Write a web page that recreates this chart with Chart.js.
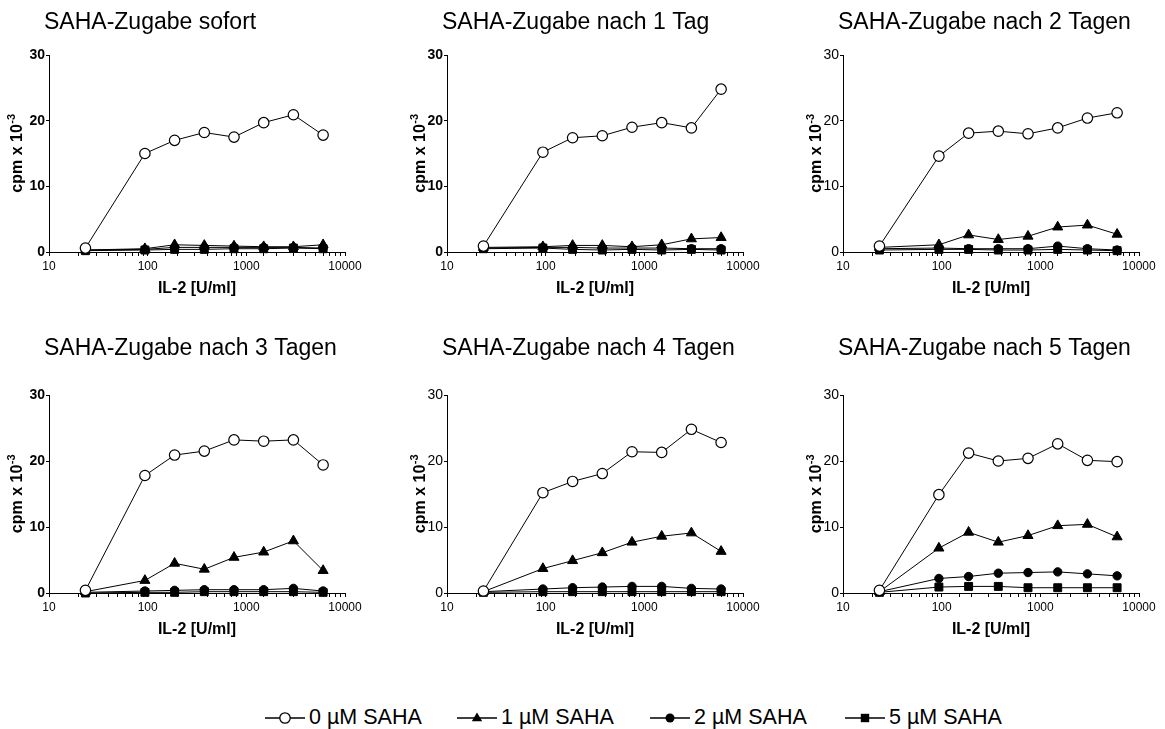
<!DOCTYPE html>
<html lang="de">
<head>
    <meta charset="UTF-8">
    <title>SAHA-Zugabe</title>
    <style>
        html, body {
            margin: 0;
            padding: 0;
            background: #fff;
            overflow: hidden;
            width: 1165px;
            height: 729px;
            font-family: "Liberation Sans", Arial, sans-serif;
        }
        canvas {
            position: absolute;
        }
        .leg {
            position: absolute;
            top: 705px;
            display: flex;
            align-items: center;
            font-size: 21.5px;
            color: #000;
            white-space: nowrap;
        }
        .leg svg {
            margin-right: 4px;
        }
    </style>
</head>
<body>
    <div id="wrap"></div>

    <script src="https://cdn.jsdelivr.net/npm/chart.js"></script>
    <script>
        // IL-2 Konzentrationen [U/ml]
        const il2 = [23.4, 93.75, 187.5, 375, 750, 1500, 3000, 6000];

        const titles = [
            'SAHA-Zugabe sofort',
            'SAHA-Zugabe nach 1 Tag',
            'SAHA-Zugabe nach 2 Tagen',
            'SAHA-Zugabe nach 3 Tagen',
            'SAHA-Zugabe nach 4 Tagen',
            'SAHA-Zugabe nach 5 Tagen'
        ];
        const legendLabels = ['0 µM SAHA', '1 µM SAHA', '2 µM SAHA', '5 µM SAHA'];
        const yTicks = [0, 10, 20, 30];

        // cpm x 10^-3, Reihen: 0, 1, 2, 5 µM SAHA
        const sofort = [
            [0.6, 15.0, 17.0, 18.2, 17.5, 19.7, 20.9, 17.8],
            [0.3, 0.5, 1.1, 1.0, 0.9, 0.8, 0.8, 1.1],
            [0.3, 0.4, 0.7, 0.7, 0.7, 0.7, 0.7, 0.6],
            [0.2, 0.3, 0.4, 0.4, 0.5, 0.5, 0.6, 0.5]
        ];
        const tag1 = [
            [0.9, 15.2, 17.4, 17.7, 19.0, 19.7, 18.9, 24.8],
            [0.7, 0.8, 1.0, 1.0, 0.8, 1.1, 2.0, 2.2],
            [0.6, 0.7, 0.7, 0.6, 0.6, 0.6, 0.5, 0.5],
            [0.5, 0.6, 0.4, 0.3, 0.4, 0.3, 0.4, 0.3]
        ];
        const tage2 = [
            [0.9, 14.6, 18.1, 18.4, 18.0, 18.9, 20.4, 21.2],
            [0.7, 1.1, 2.6, 1.9, 2.4, 3.8, 4.1, 2.7],
            [0.5, 0.6, 0.5, 0.5, 0.5, 0.9, 0.5, 0.3],
            [0.3, 0.4, 0.4, 0.3, 0.3, 0.4, 0.3, 0.2]
        ];
        const tage3 = [
            [0.4, 17.8, 20.9, 21.5, 23.2, 23.0, 23.2, 19.4],
            [0.2, 1.9, 4.5, 3.6, 5.4, 6.2, 7.9, 3.4],
            [0.1, 0.3, 0.4, 0.5, 0.5, 0.5, 0.7, 0.3],
            [0.0, 0.1, 0.1, 0.2, 0.2, 0.2, 0.2, 0.1]
        ];
        const tage4 = [
            [0.3, 15.2, 16.9, 18.1, 21.4, 21.3, 24.8, 22.8],
            [0.2, 3.7, 4.9, 6.1, 7.7, 8.6, 9.1, 6.3],
            [0.2, 0.6, 0.8, 0.9, 1.0, 1.0, 0.7, 0.6],
            [0.1, 0.2, 0.2, 0.2, 0.2, 0.2, 0.2, 0.2]
        ];
        const tage5 = [
            [0.4, 14.9, 21.2, 20.0, 20.4, 22.6, 20.1, 19.9],
            [0.2, 6.8, 9.2, 7.7, 8.7, 10.2, 10.4, 8.5],
            [0.2, 2.2, 2.5, 3.0, 3.1, 3.2, 2.9, 2.6],
            [0.1, 0.9, 1.0, 1.0, 0.8, 0.8, 0.8, 0.8]
        ];
        const panels = [sofort, tag1, tage2, tage3, tage4, tage5];

        // Marker je Reihe
        const markers = [
            { style: 'circle', r: 5.2, fill: '#fff', bw: 1.2 },
            { style: 'triangle', r: 5.8, fill: '#000', bw: 1 },
            { style: 'circle', r: 4.2, fill: '#000', bw: 1 },
            { style: 'rect', r: 5.6, fill: '#000', bw: 1 }
        ];

        // Layout
        const colLeft = [49, 447, 843];
        const plotW = 296;
        const rows = [
            { top: 0, h: 320, plotTop: 55, plotBottom: 252, titleY: 23 },
            { top: 330, h: 330, plotTop: 395, plotBottom: 593, titleY: 349 }
        ];
        const yTitleOff = [31, 26, 26];
        const yBold = [true, true, false, true, false, false];
        const AXW = 48;
        const PADR = 26;

        Chart.defaults.font.family = '"Liberation Sans", Arial, sans-serif';
        Chart.defaults.color = '#000';

        const textPlugin = {
            id: 'panelText',
            afterDraw(chart) {
                const o = chart.options.plugins.panelText;
                const ctx = chart.ctx;
                const a = chart.chartArea;
                ctx.save();
                ctx.fillStyle = '#000';
                // Titel
                ctx.font = '23px "Liberation Sans", Arial, sans-serif';
                ctx.textAlign = 'left';
                ctx.textBaseline = 'middle';
                ctx.fillText(o.title, a.left - 5, o.titleY);
                // x-Achsentitel
                ctx.font = 'bold 16px "Liberation Sans", Arial, sans-serif';
                ctx.textAlign = 'center';
                ctx.fillText('IL-2 [U/ml]', (a.left + a.right) / 2, a.bottom + 37);
                // y-Achsentitel mit Hochzahl
                const main = 'cpm x 10';
                const sup = '-3';
                ctx.font = 'bold 16px "Liberation Sans", Arial, sans-serif';
                const w1 = ctx.measureText(main).width;
                ctx.font = 'bold 11px "Liberation Sans", Arial, sans-serif';
                const w2 = ctx.measureText(sup).width;
                ctx.translate(a.left - o.yOff, (a.top + a.bottom) / 2);
                ctx.rotate(-Math.PI / 2);
                ctx.textAlign = 'left';
                ctx.font = 'bold 16px "Liberation Sans", Arial, sans-serif';
                ctx.fillText(main, -(w1 + w2) / 2, 0);
                ctx.font = 'bold 11px "Liberation Sans", Arial, sans-serif';
                ctx.fillText(sup, -(w1 + w2) / 2 + w1 + 0.5, -6);
                ctx.restore();
            }
        };

        const wrap = document.getElementById('wrap');

        panels.forEach((series, i) => {
            const row = rows[Math.floor(i / 3)];
            const col = i % 3;
            const cv = document.createElement('canvas');
            const cw = AXW + plotW + PADR;
            cv.width = cw;
            cv.height = row.h;
            cv.style.left = (colLeft[col] - AXW) + 'px';
            cv.style.top = row.top + 'px';
            wrap.appendChild(cv);

            const datasets = series.map((vals, k) => ({
                label: legendLabels[k],
                data: il2.map((x, j) => ({ x: x, y: vals[j] })),
                borderColor: '#000',
                borderWidth: 1,
                pointStyle: markers[k].style,
                pointRadius: markers[k].r,
                pointBackgroundColor: markers[k].fill,
                pointBorderColor: '#000',
                pointBorderWidth: markers[k].bw,
                tension: 0,
                clip: false
            }));

            new Chart(cv, {
                type: 'line',
                data: { datasets: datasets },
                plugins: [textPlugin],
                options: {
                    responsive: false,
                    animation: false,
                    events: [],
                    layout: {
                        padding: { top: row.plotTop - row.top, right: PADR, left: 0, bottom: 0 }
                    },
                    plugins: {
                        legend: { display: false },
                        tooltip: { enabled: false },
                        panelText: { title: titles[i], titleY: row.titleY - row.top, yOff: yTitleOff[col] }
                    },
                    scales: {
                        x: {
                            type: 'logarithmic',
                            min: 10,
                            max: 10000,
                            afterFit(s) { s.height = row.h - (row.plotBottom - row.top); },
                            border: { display: true, color: '#000', width: 1 },
                            grid: { display: true, drawOnChartArea: false, drawTicks: true, tickLength: 4, color: '#000' },
                            ticks: {
                                autoSkip: false,
                                maxRotation: 0,
                                padding: 3,
                                font: { size: 12 },
                                callback(v) {
                                    const e = Math.log10(v);
                                    return Math.abs(e - Math.round(e)) < 1e-9 ? String(v) : '';
                                }
                            }
                        },
                        y: {
                            min: 0,
                            max: 30,
                            afterFit(s) { s.width = AXW; },
                            afterBuildTicks(s) { s.ticks = yTicks.map(v => ({ value: v })); },
                            border: { display: true, color: '#000', width: 1 },
                            grid: { display: true, drawOnChartArea: false, drawTicks: true, tickLength: 3, color: '#000' },
                            ticks: {
                                padding: 1,
                                font: { size: 14, weight: yBold[i] ? 'bold' : 'normal' }
                            }
                        }
                    }
                }
            });
        });

        // Legende
        const legLeft = [265, 457, 650, 845];
        function markerSvg(k) {
            let shape = '';
            if (k === 0) shape = '<circle cx="20" cy="8" r="5.2" fill="#fff" stroke="#000" stroke-width="1.3"/>';
            if (k === 1) shape = '<polygon points="20,2.5 25.2,11.2 14.8,11.2" fill="#000"/>';
            if (k === 2) shape = '<circle cx="20" cy="8" r="4.5" fill="#000"/>';
            if (k === 3) shape = '<rect x="15.8" y="3.8" width="8.4" height="8.4" fill="#000"/>';
            return '<svg width="40" height="16" viewBox="0 0 40 16">' +
                '<line x1="0" y1="8" x2="40" y2="8" stroke="#000" stroke-width="1.6"/>' + shape + '</svg>';
        }
        legendLabels.forEach((lab, k) => {
            const d = document.createElement('div');
            d.className = 'leg';
            d.style.left = legLeft[k] + 'px';
            d.innerHTML = markerSvg(k) + '<span>' + lab + '</span>';
            document.body.appendChild(d);
        });
    </script>
</body>
</html>
